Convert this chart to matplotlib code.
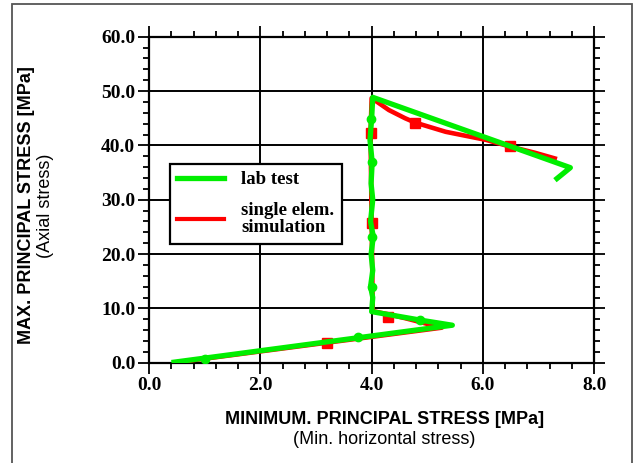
import matplotlib
matplotlib.use("Agg")
import matplotlib.pyplot as plt
from matplotlib.patches import Rectangle
from matplotlib.ticker import MultipleLocator, FormatStrFormatter

# lab test path (min principal stress, max principal stress) in MPa
lab_x = [0.45, 5.45, 4.9, 4.0, 4.02, 3.98, 4.02, 3.99, 4.03, 3.98, 4.02, 3.99, 4.01, 3.97, 4.0, 4.02, 7.57, 7.33]
lab_y = [0.1, 6.9, 7.8, 9.4, 12.0, 14.0, 17.0, 20.0, 23.2, 26.0, 30.0, 33.0, 36.9, 41.0, 44.9, 48.85, 35.9, 33.9]
lab_dot_x = [1.0, 3.76, 4.87, 4.0, 4.0, 4.0, 3.98]
lab_dot_y = [0.6, 4.8, 7.86, 14.0, 23.2, 36.9, 44.9]

# single element simulation
sim_x = [0.52, 5.26, 4.6, 4.3, 4.02, 4.0, 3.98, 4.0, 4.31, 4.6, 4.78, 5.33, 6.06, 6.48, 6.93, 7.29]
sim_y = [0.1, 6.45, 8.2, 8.9, 9.5, 25.8, 42.2, 48.7, 46.5, 45.0, 44.2, 42.5, 41.0, 39.8, 38.65, 37.6]
sim_sq_x = [3.2, 4.3, 4.0, 3.98, 4.78, 6.48]
sim_sq_y = [3.7, 8.5, 25.8, 42.2, 44.2, 39.8]

GREEN = "#00ee00"
RED = "#ff0000"

fig = plt.figure(figsize=(6.36, 4.63), dpi=100)
ax = fig.add_axes([0.2343, 0.2166, 0.9344 - 0.2343, 0.9207 - 0.2166])

# outer frame of the picture
fig.patches.append(Rectangle((11.5 / 636, -0.05), (632 - 11.5) / 636, 1.05 - 4.5 / 463,
                             transform=fig.transFigure, fill=False,
                             edgecolor="#555555", linewidth=1.3))

ax.plot(sim_x, sim_y, color=RED, lw=3.3, solid_joinstyle="round", zorder=3)
ax.plot(sim_sq_x, sim_sq_y, ls="none", marker="s", ms=7, color=RED, zorder=3)
lab_line, = ax.plot(lab_x, lab_y, color=GREEN, lw=3.8, solid_joinstyle="round", zorder=4)
ax.plot(lab_dot_x, lab_dot_y, ls="none", marker="o", ms=6, color=GREEN, zorder=4)
sim_line, = ax.plot([], [], color=RED, lw=3.0)

ax.set_xlim(0, 8)
ax.set_ylim(0, 60)
ax.xaxis.set_major_locator(MultipleLocator(2))
ax.xaxis.set_minor_locator(MultipleLocator(0.4))
ax.yaxis.set_major_locator(MultipleLocator(10))
ax.yaxis.set_minor_locator(MultipleLocator(2))
ax.xaxis.set_major_formatter(FormatStrFormatter("%.1f"))
ax.yaxis.set_major_formatter(FormatStrFormatter("%.1f"))

ax.tick_params(which="both", direction="out", top=True, right=True, width=1.3, color="black")
ax.tick_params(which="major", length=8, pad=2)
ax.tick_params(which="minor", length=4)
for lab in ax.get_xticklabels() + ax.get_yticklabels():
    lab.set_fontfamily("Liberation Serif")
    lab.set_fontweight("bold")
    lab.set_fontsize(14)

ax.grid(True, which="major", color="black", lw=1.4)
ax.set_axisbelow(True)
for sp in ax.spines.values():
    sp.set_linewidth(1.6)

# axis titles
fig.text(27 / 636, 1 - 205 / 463, "MAX. PRINCIPAL STRESS [MPa]", rotation=90,
         ha="center", va="center", family="Liberation Sans", weight="bold", fontsize=13)
fig.text(45 / 636, 1 - 206 / 463, "(Axial stress)", rotation=90,
         ha="center", va="center", family="Liberation Sans", fontsize=13)
fig.text(385 / 636, 1 - 419 / 463, "MINIMUM. PRINCIPAL STRESS [MPa]",
         ha="center", va="center", family="Liberation Sans", weight="bold", fontsize=13)
fig.text(384 / 636, 1 - 440 / 463, "(Min. horizontal stress)",
         ha="center", va="center", family="Liberation Sans", fontsize=13)

leg = ax.legend([lab_line, sim_line], ["lab test", "single elem.\nsimulation"],
                loc="upper left", bbox_to_anchor=(0.047, 0.61), borderaxespad=0,
                fancybox=False, framealpha=1, edgecolor="black",
                handlelength=2.5, handletextpad=0.9, borderpad=0.4, labelspacing=0.7,
                prop={"family": "Liberation Serif", "weight": "bold", "size": 13.5})
leg.get_frame().set_linewidth(1.6)
leg.get_texts()[1].set_linespacing(1.05)
leg.set_zorder(5)

fig.savefig("out.png", dpi=100)
